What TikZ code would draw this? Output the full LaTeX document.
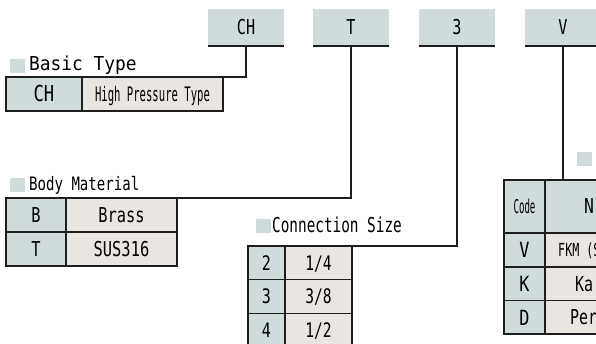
\documentclass[tikz,border=0pt]{standalone}
\usepackage{fontspec}
\usepackage{graphicx}
\newfontfamily\gothic{DejaVu Sans Mono}
\definecolor{keyfill}{HTML}{D0DCDC}
\definecolor{valfill}{HTML}{E9E5E1}
\definecolor{ink}{HTML}{1E1E1E}
% text in the gothic face: size (pt), horizontal scale, text
\newcommand\tx[3]{{\gothic\fontsize{#1pt}{#1pt}\selectfont\scalebox{#2}[1]{#3}}}

\begin{document}
\begin{tikzpicture}[x=1pt,y=-1pt,
  cell/.style={draw=ink, line width=1.5pt, inner sep=0pt, outer sep=0pt,
               anchor=north west, text depth=0pt},
  keycell/.style={cell, fill=keyfill},
  valcell/.style={cell, fill=valfill},
  codebox/.style={fill=keyfill, inner sep=0pt, outer sep=0pt, anchor=north west,
                  minimum width=76pt, minimum height=37pt, text height=15pt, text depth=0pt},
  headsq/.style={fill=keyfill, inner sep=0pt, outer sep=0pt, anchor=north west,
                 minimum width=15pt, minimum height=14pt},
  heading/.style={anchor=base west, inner sep=0pt},
  celltext/.style={anchor=west, inner sep=0pt, text depth=0pt},
  conn/.style={draw=ink, line width=1.5pt}
]
\useasboundingbox (0,0) rectangle (596,344);
\clip (0,0) rectangle (596,344);

% ---- code boxes along the top
\node[codebox] (tCH) at (208,9) {\tx{20.5}{0.74}{CH}};
\node[codebox] (tT)  at (313,9) {\tx{20.5}{0.74}{T}};
\node[codebox] (t3)  at (419,9) {\tx{20.5}{0.74}{3}};
\node[codebox] (tV)  at (525,9) {\tx{20.5}{0.74}{V}};
\foreach \b in {tCH,tT,t3,tV}
  \draw[conn] (\b.south west) -- (\b.south east);

% ---- Basic Type
\node[headsq] (hq1) at (10,59) {};
\node[heading] (h1) at (29,71) {\tx{19.2}{0.93}{Basic Type}};
\node[keycell, minimum width=76pt, minimum height=34pt, text height=16pt] (b1k) at (6,77)
  {\tx{22}{0.78}{CH}};
\node[valcell, minimum width=141pt, minimum height=34pt, text height=14.5pt] (b1v) at (b1k.north east)
  {\tx{20}{0.53}{High Pressure Type}};

% ---- Body Material
\node[headsq] (hq2) at (10,178) {};
\node[heading] (h2) at (29,191) {\tx{18.5}{0.76}{Body Material}};
\node[keycell, minimum width=60pt, minimum height=34pt, text height=15pt] (m1k) at (6,198)
  {\tx{20.5}{0.75}{B}};
\node[valcell, minimum width=111pt, minimum height=34pt, text height=15pt] (m1v) at (m1k.north east)
  {\tx{20.5}{0.75}{Brass}};
\node[keycell, minimum width=60pt, minimum height=34pt, text height=15pt] (m2k) at (m1k.south west)
  {\tx{20.5}{0.75}{T}};
\node[valcell, minimum width=111pt, minimum height=34pt, text height=15pt] (m2v) at (m2k.north east)
  {\tx{20.5}{0.75}{SUS316}};

% ---- Connection Size
\node[headsq] (hq3) at (256,219) {};
\node[heading] (h3) at (272,233) {\tx{20.5}{0.70}{Connection Size}};
\node[keycell, minimum width=37pt, minimum height=33.7pt, text height=14.5pt] (c1k) at (248,246)
  {\tx{20}{0.75}{2}};
\node[valcell, minimum width=67pt, minimum height=33.7pt, text height=14.5pt] (c1v) at (c1k.north east)
  {\tx{20}{0.73}{1/4}};
\node[keycell, minimum width=37pt, minimum height=33.7pt, text height=14.5pt] (c2k) at (c1k.south west)
  {\tx{20}{0.75}{3}};
\node[valcell, minimum width=67pt, minimum height=33.7pt, text height=14.5pt] (c2v) at (c2k.north east)
  {\tx{20}{0.73}{3/8}};
\node[keycell, minimum width=37pt, minimum height=33.7pt, text height=14.5pt] (c3k) at (c2k.south west)
  {\tx{20}{0.75}{4}};
\node[valcell, minimum width=67pt, minimum height=33.7pt, text height=14.5pt] (c3v) at (c3k.north east)
  {\tx{20}{0.73}{1/2}};

% ---- seal table on the right
\node[headsq] (hq4) at (577,152) {};
\node[keycell, minimum width=41pt, minimum height=53pt, text height=14pt] (v0k) at (504,180)
  {\tx{19}{0.48}{Code}};
\node[keycell, minimum width=120pt, minimum height=53pt] (v0v) at (v0k.north east) {};
\node[keycell, minimum width=41pt, minimum height=34pt, text height=15.5pt] (v1k) at (v0k.south west)
  {\tx{21}{0.8}{V}};
\node[valcell, minimum width=120pt, minimum height=34pt] (v1v) at (v1k.north east) {};
\node[keycell, minimum width=41pt, minimum height=33.5pt, text height=15.5pt] (v2k) at (v1k.south west)
  {\tx{21}{0.8}{K}};
\node[valcell, minimum width=120pt, minimum height=33.5pt] (v2v) at (v2k.north east) {};
\node[keycell, minimum width=41pt, minimum height=33.5pt, text height=15.5pt] (v3k) at (v2k.south west)
  {\tx{21}{0.8}{D}};
\node[valcell, minimum width=120pt, minimum height=33.5pt] (v3v) at (v3k.north east) {};
\node[celltext, text height=15pt] (v0t) at ([xshift=39pt]v0v.west) {\tx{20.5}{0.8}{N}};
\node[celltext, text height=13pt] (v1t) at ([xshift=13pt]v1v.west) {\tx{18}{0.65}{FKM (S}};
\node[celltext, text height=15pt] (v2t) at ([xshift=30pt]v2v.west) {\tx{20.5}{0.73}{Ka}};
\node[celltext, text height=15pt] (v3t) at ([xshift=25pt]v3v.west) {\tx{20.5}{0.73}{Per}};

% ---- connectors from the code boxes to their tables
\coordinate (j1) at (177,77);
\draw[conn] (tCH.south) |- (j1);
\draw[conn] (tT.south) |- (m1v.north east);
\draw[conn] (t3.south) |- (c1v.north east);
\draw[conn] (tV.south) -- (tV.south |- v0v.north);
\end{tikzpicture}
\end{document}
